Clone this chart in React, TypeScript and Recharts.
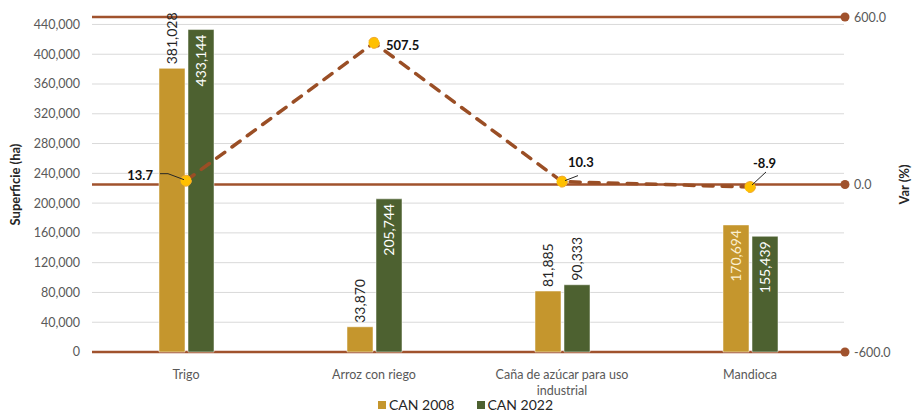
import { ComposedChart, Bar, Line, XAxis, YAxis, CartesianGrid, Legend, LabelList, Text } from "recharts";

const categories = ["Trigo", "Arroz con riego", "Caña de azúcar para uso industrial", "Mandioca"];
const can2008 = [381028, 33870, 81885, 170694];
const can2022 = [433144, 205744, 90333, 155439];
const varPct = [13.7, 507.5, 10.3, -8.9];
const leftTicks = [0, 40000, 80000, 120000, 160000, 200000, 240000, 280000, 320000, 360000, 400000, 440000];
const rightTicks = [-600, 0, 600];

// which bar labels Excel put inside the bar end
const inside2008 = [false, false, false, true];
const inside2022 = [true, true, false, true];

const GOLD = "#C5962D";
const GREEN = "#4D6130";
const BROWN = "#A0522D";
const DASH = "#9A4E25";
const FONT = "Lato, 'Liberation Sans', sans-serif";

const data = categories.map((name, i) => ({
  name,
  can2008: can2008[i],
  can2022: can2022[i],
  varPct: varPct[i],
}));

const fmt = (v: number) => v.toLocaleString("en-US");

const barLabel = (inside: boolean[], lightFill: string) => (props: any) => {
  const { x, y, width, value, index } = props;
  const cx = Number(x) + Number(width) / 2;
  const inn = inside[index];
  const ty = inn ? Number(y) + 5 : Number(y) - 4;
  return (
    <text
      x={cx}
      y={ty}
      transform={`rotate(-90 ${cx} ${ty})`}
      textAnchor={inn ? "end" : "start"}
      dominantBaseline="central"
      fontSize={14}
      fontFamily={FONT}
      fill={inn ? lightFill : "#262626"}
    >
      {fmt(Number(value))}
    </text>
  );
};

const varLabelPos = [
  { dx: -33, dy: -6, anchor: "end", leader: [[-26, -7], [-18, -7], [-2, -1]] },
  { dx: 12, dy: 2, anchor: "start", leader: null },
  { dx: 6, dy: -20, anchor: "start", leader: [[16, -6], [3, -1]] },
  { dx: 3, dy: -24, anchor: "start", leader: [[16, -15], [2, -2]] },
];

const VarLabel = (props: any) => {
  const { x, y, value, index } = props;
  const p = varLabelPos[index];
  const px = Number(x);
  const py = Number(y);
  return (
    <g>
      {p.leader && (
        <polyline
          points={p.leader.map(([a, b]) => `${px + a},${py + b}`).join(" ")}
          fill="none"
          stroke="#262626"
          strokeWidth={1}
        />
      )}
      <text
        x={px + p.dx}
        y={py + p.dy}
        textAnchor={p.anchor as any}
        dominantBaseline="central"
        fontSize={13}
        fontWeight={700}
        fontFamily={FONT}
        fill="#111"
      >
        {Number(value).toFixed(1)}
      </text>
    </g>
  );
};

const RightTick = (props: any) => {
  const { x, y, payload } = props;
  return (
    <g>
      <circle cx={Number(x) + 1} cy={y} r={4.5} fill={BROWN} />
      <text x={Number(x) + 10} y={y} dominantBaseline="central" fontSize={12.5} fontFamily={FONT} fill="#595959">
        {Number(payload.value).toFixed(1)}
      </text>
    </g>
  );
};

const CategoryTick = (props: any) => {
  const { x, y, payload } = props;
  return (
    <Text
      x={x}
      y={y}
      width={160}
      textAnchor="middle"
      verticalAnchor="start"
      fontSize={12.5}
      fontFamily={FONT}
      fill="#595959"
      lineHeight={16}
    >
      {payload.value}
    </Text>
  );
};

const LegendBox = () => (
  <div
    style={{
      display: "flex",
      justifyContent: "center",
      gap: 22,
      fontFamily: FONT,
      fontSize: 14,
      color: "#262626",
      paddingLeft: 14,
    }}
  >
    {[
      { label: "CAN 2008", color: GOLD },
      { label: "CAN 2022", color: GREEN },
    ].map((it) => (
      <span key={it.label} style={{ display: "flex", alignItems: "center", gap: 3 }}>
        <span style={{ width: 8, height: 8, background: it.color, display: "inline-block" }} />
        {it.label}
      </span>
    ))}
  </div>
);

export default function App() {
  return (
    <div style={{ width: 917, height: 414, background: "#fff" }}>
      <style>{"body{margin:0}"}</style>
      <ComposedChart
        width={917}
        height={414}
        data={data}
        margin={{ top: 17, right: 0, left: 0, bottom: 0 }}
        barSize={26}
        barGap={3}
      >
        <CartesianGrid yAxisId="left" horizontal vertical={false} stroke="#D9D9D9" strokeWidth={1} />
        <CartesianGrid yAxisId="right" horizontal vertical={false} stroke={BROWN} strokeWidth={2.5} />
        <XAxis
          dataKey="name"
          axisLine={false}
          tickLine={false}
          height={38}
          tickMargin={12}
          interval={0}
          tick={<CategoryTick />}
        />
        <YAxis
          yAxisId="left"
          width={92}
          domain={[0, 450000]}
          ticks={leftTicks}
          tickFormatter={fmt}
          axisLine={false}
          tickLine={false}
          tickSize={0}
          tickMargin={12}
          tick={{ fill: "#595959", fontSize: 12.5, fontFamily: FONT }}
          label={{
            value: "Superficie  (ha)",
            angle: -90,
            position: "insideLeft",
            offset: 15,
            style: { fontWeight: 700, fontSize: 13, fill: "#262626", fontFamily: FONT, textAnchor: "middle" },
          }}
        />
        <YAxis
          yAxisId="right"
          orientation="right"
          width={73}
          domain={[-600, 600]}
          ticks={rightTicks}
          axisLine={false}
          tickLine={false}
          tickSize={0}
          tickMargin={0}
          tick={<RightTick />}
          label={{
            value: "Var (%)",
            angle: -90,
            position: "insideRight",
            offset: 13,
            style: { fontWeight: 700, fontSize: 13, fill: "#262626", fontFamily: FONT, textAnchor: "middle" },
          }}
        />
        <Legend verticalAlign="bottom" height={24} content={<LegendBox />} wrapperStyle={{ top: 396 }} />
        <Bar yAxisId="left" dataKey="can2008" name="CAN 2008" fill={GOLD} stroke="#fff" strokeWidth={0.5} isAnimationActive={false}>
          <LabelList dataKey="can2008" content={barLabel(inside2008, "#FBEFD0")} />
        </Bar>
        <Bar yAxisId="left" dataKey="can2022" name="CAN 2022" fill={GREEN} stroke="#fff" strokeWidth={0.5} isAnimationActive={false}>
          <LabelList dataKey="can2022" content={barLabel(inside2022, "#FFFFFF")} />
        </Bar>
        <Line
          yAxisId="right"
          dataKey="varPct"
          stroke={DASH}
          strokeWidth={3.5}
          strokeDasharray="10 9"
          strokeLinecap="round"
          dot={{ r: 5.5, fill: "#FFC000", stroke: "#F0A830", strokeWidth: 1 }}
          legendType="none"
          isAnimationActive={false}
        >
          <LabelList dataKey="varPct" content={<VarLabel />} />
        </Line>
      </ComposedChart>
    </div>
  );
}
